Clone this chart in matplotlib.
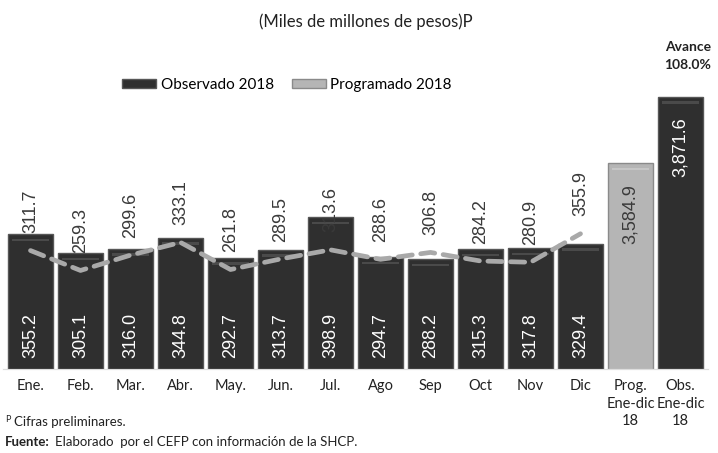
import matplotlib
matplotlib.use("Agg")
import matplotlib.pyplot as plt
from matplotlib.patches import Patch

plt.rcParams['font.family'] = ['Lato', 'DejaVu Sans']

# Datos (miles de millones de pesos)
meses = ["Ene.", "Feb.", "Mar.", "Abr.", "May.", "Jun.", "Jul.",
         "Ago", "Sep", "Oct", "Nov", "Dic"]
observado = [355.2, 305.1, 316.0, 344.8, 292.7, 313.7, 398.9,
             294.7, 288.2, 315.3, 317.8, 329.4]
programado = [311.7, 259.3, 299.6, 333.1, 261.8, 289.5, 313.6,
              288.6, 306.8, 284.2, 280.9, 355.9]
total_labels = ["Prog.\nEne-dic\n18", "Obs.\nEne-dic\n18"]
totales = [3584.9, 3871.6]
avance = 108.0

DARK = "#2f2f2f"
LIGHT = "#b5b5b5"
LINE = "#a9a9a9"

fig = plt.figure(figsize=(7.18, 4.53), dpi=100)
ax = fig.add_axes([3 / 718, 84 / 453, 705 / 718, 300 / 453])
ax2 = ax.twinx()

x_m = list(range(len(meses)))
x_t = [len(meses), len(meses) + 1]

ax.set_xlim(-0.55, 13.55)
ax.set_ylim(0, 300 / 0.38)
# totals use their own scale (not zero based, as in the original)
ax2.set_ylim(2694.3, 2694.3 + 300 / 0.2313)

px = 1 / 0.38  # data units per pixel, monthly axis

ax.bar(x_m, observado, width=0.9, color=DARK, edgecolor="#575757", linewidth=1.0, zorder=2)
# top highlight of the bevelled bars
ax.bar(x_m, [2.5 * px] * len(meses), bottom=[v - 7 * px for v in observado],
       width=0.74, color="#4a4a4a", linewidth=0, zorder=3)

ax2.bar(x_t[0], totales[0], width=0.9, color=LIGHT, edgecolor="#8a8a8a", linewidth=1.0, zorder=2)
ax2.bar(x_t[1], totales[1], width=0.9, color=DARK, edgecolor="#575757", linewidth=1.0, zorder=2)
ax2.bar(x_t[0], 2.5 / 0.2313, bottom=totales[0] - 7 / 0.2313, width=0.74,
        color="#c6c6c6", linewidth=0, zorder=3)
ax2.bar(x_t[1], 2.5 / 0.2313, bottom=totales[1] - 7 / 0.2313, width=0.74,
        color="#4a4a4a", linewidth=0, zorder=3)

ax.plot(x_m, programado, color=LINE, linewidth=3.4, linestyle=(0, (3.0, 1.8)),
        dash_capstyle="round", zorder=4)

# value labels
for i, v in enumerate(observado):
    ax.annotate(f"{v:.1f}", xy=(i, 0), xytext=(0, 8), textcoords="offset points",
                ha="center", va="bottom", rotation=90, color="white", fontsize=13,
                family=['Liberation Sans', 'DejaVu Sans'], zorder=5)
for i, v in enumerate(programado):
    ax.annotate(f"{v:.1f}", xy=(i, v), xytext=(0, 12.5), textcoords="offset points",
                ha="center", va="bottom", rotation=90, color="#3a3a3a", fontsize=13,
                family=['Liberation Sans', 'DejaVu Sans'], zorder=5)
for xi, v, c in zip(x_t, totales, ["#3a3a3a", "white"]):
    ax2.annotate(f"{v:,.1f}", xy=(xi, v), xytext=(0, -15), textcoords="offset points",
                 ha="center", va="top", rotation=90, color=c, fontsize=13,
                 family=['Liberation Sans', 'DejaVu Sans'], zorder=5)

ax.set_xticks(x_m + x_t)
ax.set_xticklabels(meses + total_labels, fontsize=10.5, color="#222222", linespacing=1.35, va="top")
ax.tick_params(axis="x", length=0, pad=7)
ax.set_yticks([])
ax2.set_yticks([])
for a in (ax, ax2):
    for s in ("top", "left", "right"):
        a.spines[s].set_visible(False)
    a.spines["bottom"].set_color("#dddddd")
ax2.set_zorder(ax.get_zorder() - 1)
ax.patch.set_visible(False)

fig.text(366 / 718, 1 - 22 / 453, "(Miles de millones de pesos)P", ha="center", va="center",
         fontsize=12, color="#222222")
fig.text(688 / 718, 1 - 56 / 453, f"Avance\n{avance:.1f}%", ha="center", va="center",
         fontsize=10, fontweight="bold", color="#222222", linespacing=1.6)

handles = [Patch(facecolor=DARK, edgecolor="#575757", label="Observado 2018"),
           Patch(facecolor=LIGHT, edgecolor="#8a8a8a", label="Programado 2018")]
fig.legend(handles=handles, loc="center", bbox_to_anchor=(287 / 718, 1 - 85 / 453), ncol=2,
           frameon=False, fontsize=11, handlelength=2.2, handleheight=0.5,
           handletextpad=0.3, columnspacing=1.2)

fig.text(5 / 718, 1 - 419 / 453, "P", fontsize=6.5, color="#222222", va="center")
fig.text(14 / 718, 1 - 422 / 453, "Cifras preliminares.", fontsize=9.5, color="#222222", va="center")
fig.text(5 / 718, 1 - 442 / 453, "Fuente:", fontsize=9.5, fontweight="bold", color="#222222", va="center")
fig.text(55 / 718, 1 - 442 / 453, "Elaborado  por el CEFP con información de la SHCP.",
         fontsize=9.5, color="#222222", va="center")

fig.savefig("out.png", dpi=100)
